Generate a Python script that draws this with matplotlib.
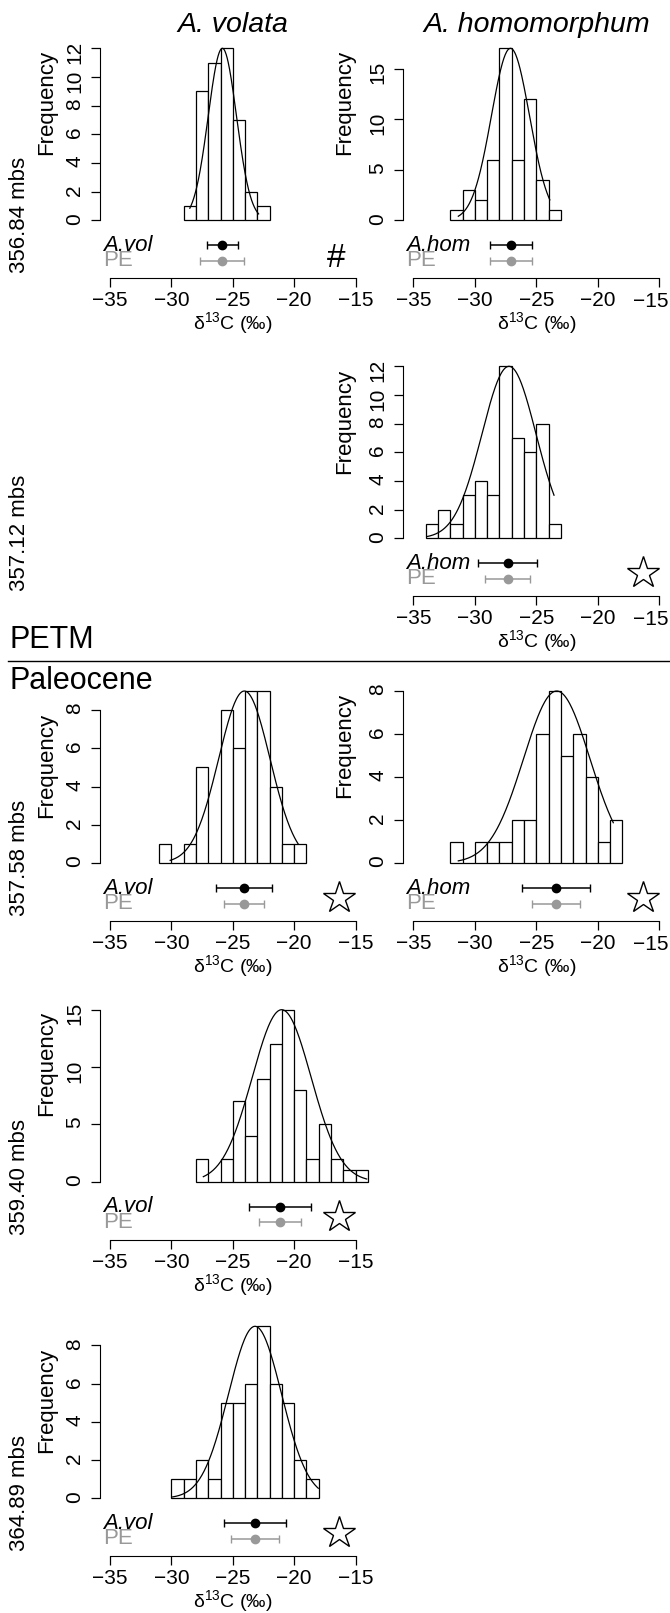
import numpy as np
import matplotlib
matplotlib.use("Agg")
import matplotlib.pyplot as plt
from matplotlib.lines import Line2D

plt.rcParams["font.family"] = ["Liberation Sans", "DejaVu Sans"]
plt.rcParams["mathtext.fontset"] = "custom"
plt.rcParams["mathtext.rm"] = "Liberation Sans"
plt.rcParams["mathtext.it"] = "Liberation Sans:italic"

# histogram counts (1 permil bins), first bin left edge
vol_35684_start = -29
vol_35684_counts = [1, 9, 11, 12, 7, 2, 1]
hom_35684_start = -32
hom_35684_counts = [1, 3, 2, 6, 17, 6, 12, 4, 1]
hom_35712_start = -34
hom_35712_counts = [1, 2, 1, 3, 4, 3, 12, 7, 6, 8, 1]
vol_35758_start = -31
vol_35758_counts = [1, 0, 1, 5, 0, 8, 6, 9, 9, 4, 1, 1]
hom_35758_start = -32
hom_35758_counts = [1, 0, 1, 1, 1, 2, 2, 6, 8, 5, 6, 4, 1, 2]
vol_35940_start = -28
vol_35940_counts = [2, 0, 2, 7, 4, 9, 12, 15, 8, 2, 5, 2, 1, 1]
vol_36489_start = -30
vol_36489_counts = [1, 1, 2, 1, 5, 5, 6, 9, 6, 5, 2, 1]

# fitted normal curve: mean, sd, drawn range
curve_mu = [-25.85, -27.1, -27.22, -24.06, -23.34, -21.02, -23.19]
curve_sd = [1.15, 1.55, 2.2, 2.09, 2.7, 2.4, 2.16]
curve_lo = [-28.5, -31.34, -33.9, -30.1, -31.34, -27.4, -29.9]
curve_hi = [-22.9, -23.9, -23.56, -19.67, -18.74, -14.1, -18.04]

# mean with spread (sample) and PE spread
bar_mu = [-25.87, -27.06, -27.33, -24.09, -23.4, -21.16, -23.19]
sample_half = [1.26, 1.67, 2.37, 2.25, 2.78, 2.54, 2.51]
pe_half = [1.78, 1.67, 1.83, 1.63, 1.94, 1.74, 1.93]

species_short = ["A.vol", "A.hom", "A.hom", "A.vol", "A.hom", "A.vol", "A.vol"]
marks = ["#", "", "*", "*", "*", "*", "*"]
depths = ["356.84 mbs", "357.12 mbs", "357.58 mbs", "359.40 mbs", "364.89 mbs"]
titles = ["A. volata", "A. homomorphum"]
xticks = [-35, -30, -25, -20, -15]
xtick_labels = ["\u221235", "\u221230", "\u221225", "\u221220", "\u221215"]

starts = [vol_35684_start, hom_35684_start, hom_35712_start, vol_35758_start,
          hom_35758_start, vol_35940_start, vol_36489_start]
counts_all = [vol_35684_counts, hom_35684_counts, hom_35712_counts, vol_35758_counts,
              hom_35758_counts, vol_35940_counts, vol_36489_counts]

# layout (pixels)
W, H = 670, 1613
panel_pos = [(0, 0), (0, 1), (1, 1), (2, 0), (2, 1), (3, 0), (4, 0)]
row_zero = [220.3, 538.3, 863, 1181.7, 1498.3]
col_x0 = [110, 413.3]
col_ppu = [12.28, 12.3]
freq_off = [118, 118, 117, 98, 118, 118, 98]
grey = "#999999"
fs = 15

fig = plt.figure(figsize=(6.7, 16.13), dpi=100)


def fx(px):
    return px / W


def fy(py):
    return 1 - py / H


for i in range(7):
    row, col = panel_pos[i]
    counts = counts_all[i]
    m = max(counts)
    ppu = col_ppu[col]
    z = row_zero[row]
    left = col_x0[col] - 0.8 * ppu
    ax = fig.add_axes([fx(left), fy(z + 58), 21.6 * ppu / W, 230 / H])
    ax.patch.set_visible(False)
    k = m / 172.0
    ax.set_xlim(-35.8, -14.2)
    ax.set_ylim(-58 * k, m)

    edges = starts[i] + np.arange(len(counts))
    ax.bar(edges, counts, width=1, align="edge", color="white",
           edgecolor="black", linewidth=0.9, clip_on=False)

    xs = np.linspace(curve_lo[i], curve_hi[i], 200)
    ys = m * np.exp(-(xs - curve_mu[i]) ** 2 / (2 * curve_sd[i] ** 2))
    ax.plot(xs, ys, color="black", lw=0.9, clip_on=False)

    y1, y2 = -25 * k, -40.5 * k
    ax.errorbar(bar_mu[i], y1, xerr=sample_half[i], fmt="o", color="black",
                ms=6, capsize=3, lw=1.1, clip_on=False)
    ax.errorbar(bar_mu[i], y2, xerr=pe_half[i], fmt="o", color=grey,
                ms=6, capsize=3, lw=1.1, clip_on=False)
    ax.text(-35.55, y1, species_short[i], style="italic", fontsize=16,
            ha="left", va="center")
    ax.text(-35.55, y2, "PE", color=grey, fontsize=16, ha="left", va="center")

    if marks[i] == "*":
        ax.plot(-16.35, -35 * k, marker="*", ms=24, mfc="white", mec="black",
                mew=1, clip_on=False)
    elif marks[i] == "#":
        ax.text(-16.6, -37.7 * k, "#", fontsize=24, ha="center", va="center")

    step = 2 if m <= 12 else 5
    ticks = np.arange(0, m + 1, step)
    ax.set_yticks(ticks)
    ax.set_xticks(xticks)
    labels = list(xtick_labels)
    if col == 1:
        # last label sits at the figure edge
        labels[-1] = ""
        ax.text(-15 + 9.5 / ppu, -(58 + 23) * k, xtick_labels[-1], fontsize=fs,
                ha="right", va="center", clip_on=False)
    ax.set_xticklabels(labels)
    for s in ["top", "right"]:
        ax.spines[s].set_visible(False)
    ax.spines["left"].set_bounds(0, ticks[-1])
    ax.spines["bottom"].set_bounds(-35, -15)
    ax.tick_params(axis="both", labelsize=fs, length=6.5, width=0.9)
    ax.tick_params(axis="y", labelrotation=90, pad=5)
    ax.tick_params(axis="x", pad=3)

    ax.set_ylabel("Frequency", fontsize=16)
    ax.yaxis.set_label_coords(fx(47 if col == 0 else 345), fy(z - freq_off[i]),
                              transform=fig.transFigure)
    ax.yaxis.label.set_va("center")
    ax.set_xlabel(r"δ$^{13}$C (‰)", fontsize=14)
    ax.xaxis.set_label_coords(fx(col_x0[col] + 10 * ppu), fy(z + 58 + 45),
                              transform=fig.transFigure)
    ax.xaxis.label.set_va("center")

for c in range(2):
    fig.text(fx(col_x0[c] + 10 * col_ppu[c]), fy(25), titles[c], style="italic",
             fontsize=20.5, ha="center", va="center")

for r in range(5):
    fig.text(fx(20), fy(row_zero[r] - 5), depths[r], rotation=90, fontsize=16,
             ha="center", va="center")

fig.text(fx(9), fy(640), "PETM", fontsize=22, ha="left", va="center")
fig.text(fx(9), fy(681), "Paleocene", fontsize=22, ha="left", va="center")
fig.add_artist(Line2D([fx(8), fx(670)], [fy(661), fy(661)], color="black", lw=1))

fig.savefig("out.png", dpi=100)
